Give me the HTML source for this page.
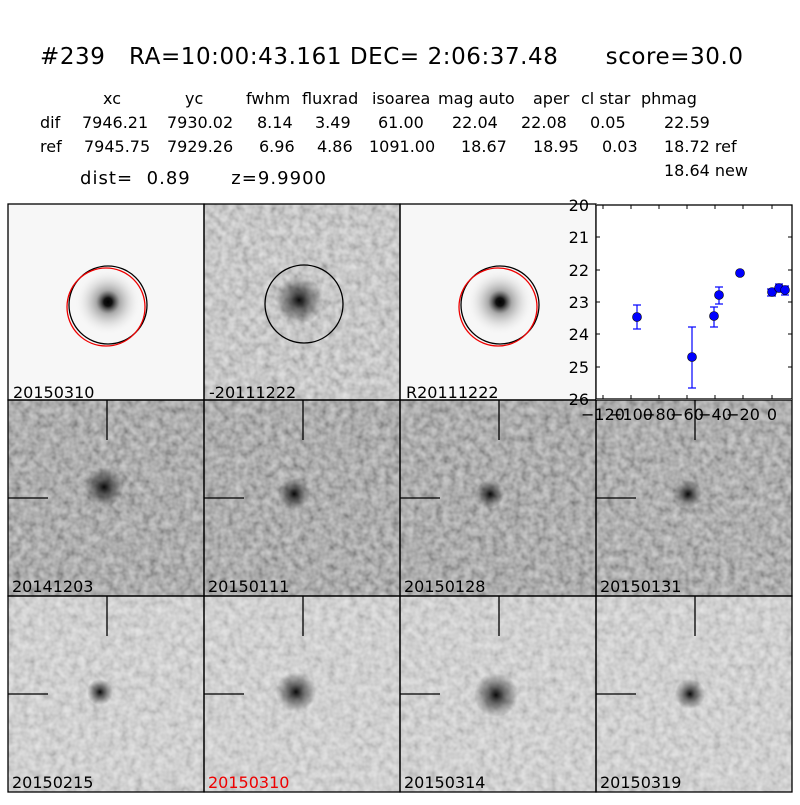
<!DOCTYPE html>
<html><head><meta charset="utf-8"><style>
body{margin:0;background:#fff;width:800px;height:800px;overflow:hidden}
svg text{font-family:"DejaVu Sans","Liberation Sans",sans-serif;white-space:pre}
</style></head><body>
<svg width="800" height="800" viewBox="0 0 800 800" xmlns="http://www.w3.org/2000/svg" xml:space="preserve">
<defs>
<filter id="n" x="0" y="0" width="100%" height="100%">
<feTurbulence type="fractalNoise" baseFrequency="0.14" numOctaves="2" seed="3"/>
<feColorMatrix type="matrix" values="1 0 0 0 0 1 0 0 0 0 1 0 0 0 0 0 0 0 0 1"/>
</filter>
<radialGradient id="blob"><stop offset="0" stop-color="#000" stop-opacity="0.95"/><stop offset="0.35" stop-color="#000" stop-opacity="0.55"/><stop offset="1" stop-color="#000" stop-opacity="0"/></radialGradient>
<radialGradient id="star"><stop offset="0" stop-color="#000"/><stop offset="0.12" stop-color="#111"/><stop offset="0.35" stop-color="#777" stop-opacity="0.6"/><stop offset="1" stop-color="#fff" stop-opacity="0"/></radialGradient>
</defs>
<text x="40" y="64" font-size="23" textLength="703" lengthAdjust="spacing">#239   RA=10:00:43.161 DEC= 2:06:37.48      score=30.0</text>
<g font-size="16">
<text x="103" y="104">xc</text><text x="185" y="104">yc</text><text x="246" y="104">fwhm</text><text x="302" y="104">fluxrad</text><text x="372" y="104">isoarea</text><text x="438" y="104">mag auto</text><text x="533" y="104">aper</text><text x="581" y="104">cl star</text><text x="641" y="104">phmag</text>
<text x="40" y="128">dif</text><text x="82" y="128">7946.21</text><text x="167" y="128">7930.02</text><text x="257" y="128">8.14</text><text x="315" y="128">3.49</text><text x="378" y="128">61.00</text><text x="452" y="128">22.04</text><text x="521" y="128">22.08</text><text x="590" y="128">0.05</text><text x="664" y="128">22.59</text>
<text x="40" y="152">ref</text><text x="84" y="152">7945.75</text><text x="167" y="152">7929.26</text><text x="259" y="152">6.96</text><text x="317" y="152">4.86</text><text x="369" y="152">1091.00</text><text x="461" y="152">18.67</text><text x="533" y="152">18.95</text><text x="602" y="152">0.03</text><text x="664" y="152">18.72 ref</text>
<text x="664" y="176">18.64 new</text>
</g>
<text x="80" y="184" font-size="18" textLength="246" lengthAdjust="spacing">dist=  0.89      z=9.9900</text>

<!-- row 1 -->
<rect x="8" y="204" width="196" height="196" fill="#f7f7f7"/>
<circle cx="108" cy="302" r="34" fill="url(#star)"/>
<circle cx="108" cy="305" r="39" fill="none" stroke="#000" stroke-width="1.3"/>
<circle cx="106" cy="307" r="39" fill="none" stroke="#e00" stroke-width="1.3"/>
<rect x="204" y="204" width="196" height="196" fill="#d2d2d2"/>
<rect x="204" y="204" width="196" height="196" filter="url(#n)" opacity="0.45"/>
<circle cx="299" cy="300" r="24" fill="url(#blob)"/>
<circle cx="304" cy="304" r="39" fill="none" stroke="#000" stroke-width="1.3"/>
<rect x="400" y="204" width="196" height="196" fill="#f7f7f7"/>
<circle cx="500" cy="302" r="34" fill="url(#star)"/>
<circle cx="500" cy="305" r="39" fill="none" stroke="#000" stroke-width="1.3"/>
<circle cx="498" cy="307" r="39" fill="none" stroke="#e00" stroke-width="1.3"/>

<!-- row 2 -->
<g>
<rect x="8" y="400" width="588" height="196" fill="#9c9c9c"/>
<rect x="596" y="400" width="196" height="196" fill="#a0a0a0"/>
<rect x="8" y="400" width="784" height="196" filter="url(#n)" opacity="0.55"/>
<circle cx="104" cy="487" r="20" fill="url(#blob)"/>
<circle cx="294" cy="494" r="16" fill="url(#blob)"/>
<circle cx="490" cy="494" r="14" fill="url(#blob)"/>
<circle cx="688" cy="494" r="14" fill="url(#blob)"/>
</g>
<!-- row 3 -->
<g>
<rect x="8" y="596" width="784" height="196" fill="#dcdcdc"/>
<rect x="8" y="596" width="784" height="196" filter="url(#n)" opacity="0.35"/>
<circle cx="100" cy="692" r="13" fill="url(#blob)"/>
<circle cx="296" cy="692" r="20" fill="url(#blob)"/>
<circle cx="496" cy="695" r="22" fill="url(#blob)"/>
<circle cx="690" cy="694" r="15" fill="url(#blob)"/>
</g>
<!-- crosshairs -->
<g stroke="#000" stroke-width="1.3">
<line x1="107" y1="400" x2="107" y2="440"/><line x1="8" y1="498" x2="48" y2="498"/>
<line x1="303" y1="400" x2="303" y2="440"/><line x1="204" y1="498" x2="244" y2="498"/>
<line x1="499" y1="400" x2="499" y2="440"/><line x1="400" y1="498" x2="440" y2="498"/>
<line x1="695" y1="400" x2="695" y2="440"/><line x1="596" y1="498" x2="636" y2="498"/>
<line x1="107" y1="596" x2="107" y2="636"/><line x1="8" y1="694" x2="48" y2="694"/>
<line x1="303" y1="596" x2="303" y2="636"/><line x1="204" y1="694" x2="244" y2="694"/>
<line x1="499" y1="596" x2="499" y2="636"/><line x1="400" y1="694" x2="440" y2="694"/>
<line x1="695" y1="596" x2="695" y2="636"/><line x1="596" y1="694" x2="636" y2="694"/>
</g>
<!-- grid borders -->
<g fill="none" stroke="#000" stroke-width="1.3">
<rect x="8" y="204" width="196" height="196"/><rect x="204" y="204" width="196" height="196"/><rect x="400" y="204" width="196" height="196"/>
<rect x="8" y="400" width="196" height="196"/><rect x="204" y="400" width="196" height="196"/><rect x="400" y="400" width="196" height="196"/><rect x="596" y="400" width="196" height="196"/>
<rect x="8" y="596" width="196" height="196"/><rect x="204" y="596" width="196" height="196"/><rect x="400" y="596" width="196" height="196"/><rect x="596" y="596" width="196" height="196"/>
</g>
<g font-size="16">
<text x="13" y="398">20150310</text><text x="209" y="398">-20111222</text><text x="406" y="398">R20111222</text>
<text x="12" y="592">20141203</text><text x="208" y="592">20150111</text><text x="404" y="592">20150128</text><text x="600" y="592">20150131</text>
<text x="12" y="788">20150215</text><text x="208" y="788" fill="#e00">20150310</text><text x="404" y="788">20150314</text><text x="600" y="788">20150319</text>
</g>
<!-- light curve -->
<rect x="596" y="204" width="196" height="196" fill="#fff"/>
<rect x="596" y="205" width="196" height="194" fill="none" stroke="#000" stroke-width="1.3"/>
<g stroke="#000" stroke-width="1">
<line x1="603" y1="205" x2="603" y2="209"/><line x1="631" y1="205" x2="631" y2="209"/><line x1="659" y1="205" x2="659" y2="209"/><line x1="687" y1="205" x2="687" y2="209"/><line x1="715" y1="205" x2="715" y2="209"/><line x1="743" y1="205" x2="743" y2="209"/><line x1="772" y1="205" x2="772" y2="209"/>
<line x1="603" y1="399" x2="603" y2="395"/><line x1="631" y1="399" x2="631" y2="395"/><line x1="659" y1="399" x2="659" y2="395"/><line x1="687" y1="399" x2="687" y2="395"/><line x1="715" y1="399" x2="715" y2="395"/><line x1="743" y1="399" x2="743" y2="395"/><line x1="772" y1="399" x2="772" y2="395"/>
<line x1="596" y1="237" x2="600" y2="237"/><line x1="596" y1="270" x2="600" y2="270"/><line x1="596" y1="302" x2="600" y2="302"/><line x1="596" y1="334" x2="600" y2="334"/><line x1="596" y1="367" x2="600" y2="367"/>
<line x1="792" y1="237" x2="788" y2="237"/><line x1="792" y1="270" x2="788" y2="270"/><line x1="792" y1="302" x2="788" y2="302"/><line x1="792" y1="334" x2="788" y2="334"/><line x1="792" y1="367" x2="788" y2="367"/>
</g>
<g font-size="16" text-anchor="end">
<text x="589" y="211">20</text><text x="589" y="243">21</text><text x="589" y="276">22</text><text x="589" y="308">23</text><text x="589" y="340">24</text><text x="589" y="373">25</text><text x="589" y="405">26</text>
</g>
<g font-size="16" text-anchor="middle">
<text x="603" y="420">−120</text><text x="631" y="420">−100</text><text x="659" y="420">−80</text><text x="687" y="420">−60</text><text x="715" y="420">−40</text><text x="743" y="420">−20</text><text x="772" y="420">0</text>
</g>
<g stroke="#00f" stroke-width="1.2">
<line x1="637" y1="305" x2="637" y2="329"/><line x1="633" y1="305" x2="641" y2="305"/><line x1="633" y1="329" x2="641" y2="329"/>
<line x1="692" y1="327" x2="692" y2="388"/><line x1="688" y1="327" x2="696" y2="327"/><line x1="688" y1="388" x2="696" y2="388"/>
<line x1="714" y1="307" x2="714" y2="327"/><line x1="710" y1="307" x2="718" y2="307"/><line x1="710" y1="327" x2="718" y2="327"/>
<line x1="719" y1="287" x2="719" y2="304"/><line x1="715" y1="287" x2="723" y2="287"/><line x1="715" y1="304" x2="723" y2="304"/>
<line x1="772" y1="289" x2="772" y2="296"/><line x1="767" y1="289" x2="776" y2="289"/><line x1="767" y1="296" x2="776" y2="296"/>
<line x1="779" y1="284" x2="779" y2="292"/><line x1="775" y1="284" x2="783" y2="284"/><line x1="775" y1="292" x2="783" y2="292"/>
<line x1="785" y1="286" x2="785" y2="295"/><line x1="781" y1="286" x2="789" y2="286"/><line x1="781" y1="295" x2="789" y2="295"/>
</g>
<g fill="#00f" stroke="#000" stroke-width="0.6">
<circle cx="637" cy="317" r="4.5"/><circle cx="692" cy="357" r="4.5"/><circle cx="714" cy="316" r="4.5"/><circle cx="719" cy="295" r="4.5"/><circle cx="740" cy="273" r="4.5"/><circle cx="772" cy="292" r="4.5"/><circle cx="779" cy="288" r="4.5"/><circle cx="785" cy="290" r="4.5"/>
</g>
</svg>
</body></html>
